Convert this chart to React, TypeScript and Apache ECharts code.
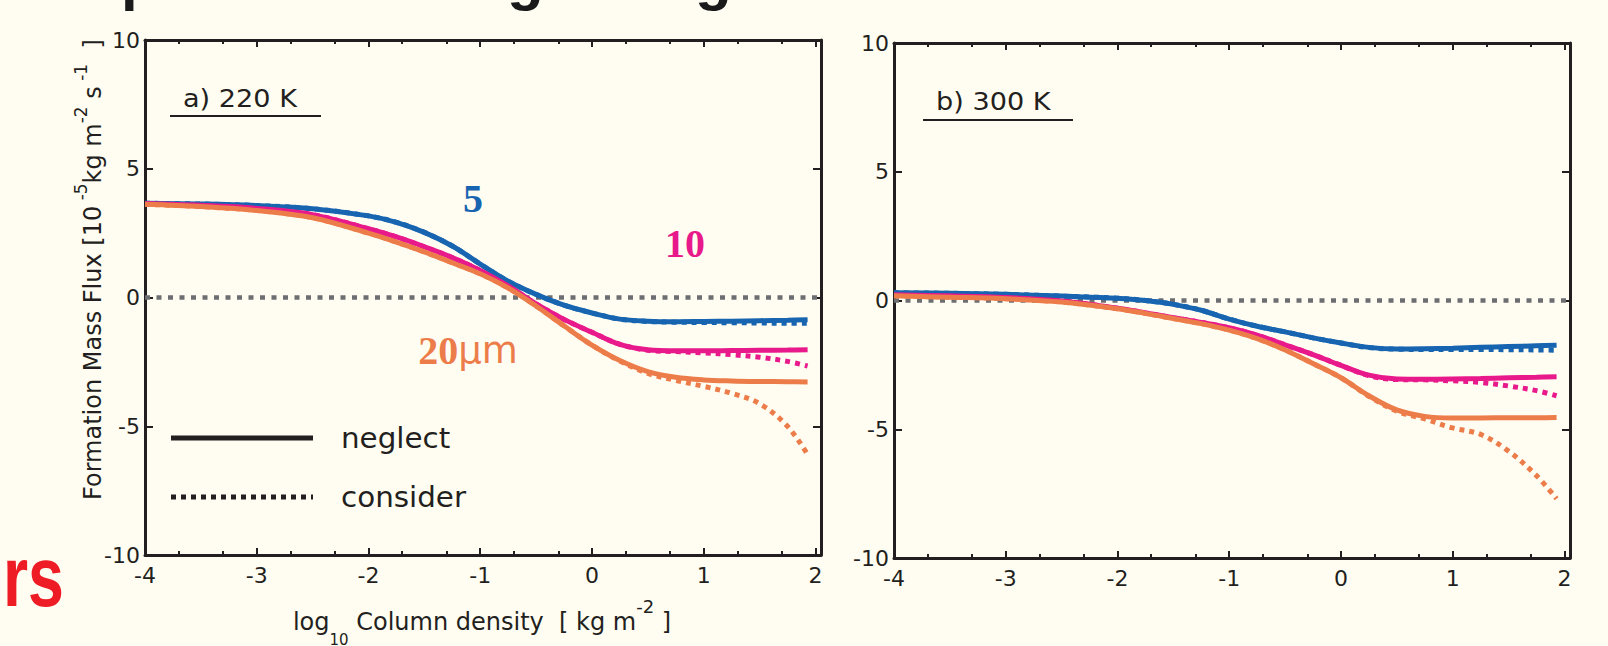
import React, { useEffect, useRef } from "react";
import * as echarts from "echarts";

// ---------- data ----------
const X = [-4, -3.5, -3, -2.5, -2, -1.75, -1.5, -1.25, -1, -0.75, -0.5, -0.25, 0, 0.25, 0.5, 0.75, 1, 1.25, 1.5, 1.75, 1.93];

// panel a) 220 K
const a5Neglect = [3.66, 3.63, 3.57, 3.45, 3.17, 2.92, 2.53, 2.0, 1.3, 0.63, 0.12, -0.3, -0.6, -0.84, -0.92, -0.94, -0.93, -0.92, -0.9, -0.88, -0.86];
const a5Consider = [3.66, 3.63, 3.57, 3.45, 3.17, 2.92, 2.53, 2.0, 1.3, 0.63, 0.12, -0.3, -0.6, -0.84, -0.93, -0.96, -0.97, -0.98, -0.99, -1.0, -1.0];
const a10Neglect = [3.65, 3.58, 3.46, 3.22, 2.67, 2.35, 1.97, 1.55, 1.05, 0.45, -0.25, -0.85, -1.35, -1.82, -2.03, -2.07, -2.07, -2.06, -2.05, -2.04, -2.03];
const a10Consider = [3.65, 3.58, 3.46, 3.22, 2.67, 2.35, 1.97, 1.55, 1.05, 0.45, -0.25, -0.85, -1.35, -1.82, -2.05, -2.1, -2.15, -2.22, -2.32, -2.48, -2.66];
const a20Neglect = [3.62, 3.53, 3.38, 3.1, 2.5, 2.15, 1.77, 1.35, 0.92, 0.37, -0.33, -1.1, -1.85, -2.45, -2.88, -3.1, -3.2, -3.24, -3.26, -3.27, -3.28];
const a20Consider = [3.62, 3.53, 3.38, 3.1, 2.5, 2.15, 1.77, 1.35, 0.92, 0.37, -0.33, -1.1, -1.85, -2.47, -2.95, -3.22, -3.45, -3.72, -4.12, -5.0, -6.1];

// panel b) 300 K
const b5Neglect = [0.3, 0.28, 0.24, 0.17, 0.09, 0.0, -0.15, -0.38, -0.72, -1.0, -1.22, -1.45, -1.65, -1.82, -1.88, -1.87, -1.85, -1.82, -1.79, -1.76, -1.74];
const b5Consider = [0.3, 0.28, 0.24, 0.17, 0.09, 0.0, -0.15, -0.38, -0.72, -1.0, -1.22, -1.45, -1.65, -1.83, -1.89, -1.9, -1.9, -1.9, -1.91, -1.92, -1.93];
const b10Neglect = [0.22, 0.18, 0.12, -0.02, -0.3, -0.48, -0.67, -0.85, -1.06, -1.35, -1.72, -2.1, -2.52, -2.9, -3.05, -3.06, -3.05, -3.03, -3.0, -2.98, -2.96];
const b10Consider = [0.22, 0.18, 0.12, -0.02, -0.3, -0.48, -0.67, -0.85, -1.06, -1.35, -1.72, -2.1, -2.52, -2.92, -3.07, -3.08, -3.12, -3.18, -3.32, -3.5, -3.7];
const b20Neglect = [0.18, 0.13, 0.07, -0.06, -0.32, -0.5, -0.7, -0.9, -1.15, -1.48, -1.92, -2.45, -3.0, -3.7, -4.25, -4.5, -4.56, -4.56, -4.55, -4.55, -4.54];
const b20Consider = [0.18, 0.13, 0.07, -0.06, -0.32, -0.5, -0.7, -0.9, -1.15, -1.48, -1.92, -2.45, -3.0, -3.72, -4.3, -4.6, -4.95, -5.2, -5.85, -6.8, -7.7];

const xTickValues = [-4, -3, -2, -1, 0, 1, 2];
const yTickValues = [-10, -5, 0, 5, 10];
const minorDecades = [-4, -3, -2, -1, 0, 1];
const minorOffsets = [Math.log10(2), Math.log10(5)];

// ---------- style ----------
const BG = "#fffdf1";
const INK = "#231f20";
const BLUE = "#1764b0";
const PINK = "#e8198b";
const ORANGE = "#ec7d4b";
const ZERO = "#6d6e71";
const FONT = "DejaVu Sans";

const minorValues = minorDecades.flatMap((d) => minorOffsets.map((o) => d + o));

const grids = [
  { left: 145, top: 40, width: 676, height: 515 },
  { left: 894, top: 43, width: 676, height: 515 },
];

function xAxes(g: number) {
  const base: any = { type: "value", gridIndex: g, min: -4, max: 2.05, splitLine: { show: false } };
  const line = { show: true, onZero: false, lineStyle: { color: INK, width: 3 } };
  const major = { show: true, inside: true, length: 7, lineStyle: { color: INK, width: 2 }, customValues: xTickValues };
  const minor = { show: true, inside: true, length: 4, lineStyle: { color: INK, width: 2 }, customValues: minorValues };
  return [
    {
      ...base,
      position: "bottom",
      axisLine: line,
      axisTick: major,
      axisLabel: {
        show: true,
        customValues: xTickValues,
        color: INK,
        fontFamily: FONT,
        fontSize: 22,
        margin: 9,
        formatter: (v: number) => String(v),
      },
    },
    { ...base, position: "top", axisLine: line, axisTick: major, axisLabel: { show: false } },
    { ...base, position: "bottom", axisLine: { show: false, onZero: false }, axisTick: minor, axisLabel: { show: false } },
    { ...base, position: "top", axisLine: { show: false, onZero: false }, axisTick: minor, axisLabel: { show: false } },
  ];
}

function yAxes(g: number) {
  const base: any = { type: "value", gridIndex: g, min: -10, max: 10, interval: 5, splitLine: { show: false } };
  const line = { show: true, onZero: false, lineStyle: { color: INK, width: 3 } };
  const tick = { show: true, inside: true, length: 8, lineStyle: { color: INK, width: 2 }, customValues: yTickValues };
  return [
    {
      ...base,
      position: "left",
      axisLine: line,
      axisTick: tick,
      axisLabel: { show: true, color: INK, fontFamily: FONT, fontSize: 22, margin: 5, customValues: yTickValues },
    },
    { ...base, position: "right", axisLine: line, axisTick: tick, axisLabel: { show: false } },
  ];
}

function lineSeries(name: string, vals: number[], color: string, dotted: boolean, xi: number, yi: number, zero = false) {
  const s: any = {
    type: "line",
    name,
    xAxisIndex: xi,
    yAxisIndex: yi,
    data: X.map((x, i) => [x, vals[i]]),
    smooth: 0.35,
    symbol: "none",
    showSymbol: false,
    silent: true,
    z: dotted ? 3 : 4,
    lineStyle: { color, width: 5, type: dotted ? [5, 5] : "solid", cap: "butt" },
  };
  if (zero) {
    s.markLine = {
      silent: true,
      symbol: ["none", "none"],
      label: { show: false },
      lineStyle: { color: ZERO, width: 4.5, type: [5, 6.5] },
      data: [{ yAxis: 0 }],
      z: 2,
    };
  }
  return s;
}

function panelSeries(xi: number, yi: number, d: number[][], tag: string) {
  return [
    lineSeries(tag + " 5 consider", d[1], BLUE, true, xi, yi, true),
    lineSeries(tag + " 10 consider", d[3], PINK, true, xi, yi),
    lineSeries(tag + " 20 consider", d[5], ORANGE, true, xi, yi),
    lineSeries(tag + " 5 neglect", d[0], BLUE, false, xi, yi),
    lineSeries(tag + " 10 neglect", d[2], PINK, false, xi, yi),
    lineSeries(tag + " 20 neglect", d[4], ORANGE, false, xi, yi),
  ];
}

function txt(x: number, y: number, text: string, font: string, fill: string, align = "left", extra: any = {}) {
  return {
    type: "text",
    x,
    y,
    silent: true,
    ...extra,
    style: { text, font, fill, align, verticalAlign: "middle", textAlign: align, textVerticalAlign: "middle", ...(extra.style || {}) },
  };
}

export default function App() {
  const ref = useRef<HTMLDivElement>(null);
  useEffect(() => {
    if (!ref.current) return;
    const chart = echarts.init(ref.current, undefined, { renderer: "svg" });
    const graphic: any[] = [
      // cropped slide title (only descenders visible)
      txt(121, -22, "p", 'bold 60px "Liberation Sans"', "#1a1a1a"),
      txt(507, -22, "g", 'bold 60px "Liberation Sans"', "#1a1a1a"),
      txt(695, -22, "g", 'bold 60px "Liberation Sans"', "#1a1a1a"),
      // cropped red slide text
      txt(3, 576, "rs", 'bold 86px "Liberation Sans"', "#ee1c25", "left", { scaleX: 0.75 }),
      // panel titles
      txt(183, 99, "a) 220 K", `24px "${FONT}"`, INK, "left", { scaleX: 1.13 }),
      { type: "line", silent: true, shape: { x1: 170, y1: 116, x2: 321, y2: 116 }, style: { stroke: INK, lineWidth: 2 } },
      txt(936, 102, "b) 300 K", `24px "${FONT}"`, INK, "left", { scaleX: 1.13 }),
      { type: "line", silent: true, shape: { x1: 923, y1: 120, x2: 1073, y2: 120 }, style: { stroke: INK, lineWidth: 2 } },
      // size labels
      txt(473, 198, "5", 'bold 40px "Liberation Serif"', BLUE, "center"),
      txt(685, 243, "10", 'bold 40px "Liberation Serif"', PINK, "center"),
      {
        type: "text",
        x: 468,
        y: 350,
        silent: true,
        style: {
          text: "{b|20}{n|\u03bcm}",
          align: "center",
          verticalAlign: "middle",
          textAlign: "center",
          textVerticalAlign: "middle",
          rich: {
            b: { font: 'bold 40px "Liberation Serif"', fill: ORANGE, color: ORANGE },
            n: { font: '37px "DejaVu Sans"', fill: ORANGE, color: ORANGE },
          },
        },
      },
      // legend
      { type: "line", silent: true, shape: { x1: 171, y1: 438, x2: 313, y2: 438 }, style: { stroke: INK, lineWidth: 5 } },
      { type: "line", silent: true, shape: { x1: 171, y1: 497, x2: 313, y2: 497 }, style: { stroke: INK, lineWidth: 5, lineDash: [5, 5] } },
      txt(341, 438, "neglect", `28px "${FONT}"`, INK, "left", { scaleX: 1.05 }),
      txt(341, 497, "consider", `28px "${FONT}"`, INK, "left", { scaleX: 1.05 }),
      // y axis title
      {
        type: "text",
        x: 93,
        y: 500,
        rotation: Math.PI / 2,
        silent: true,
        style: {
          text: "{n|Formation Mass Flux [10}{s| -5}{n|kg m}{s|-2}{n| s}{s| -1}{n|  ]}",
          align: "left",
          verticalAlign: "middle",
          textAlign: "left",
          textVerticalAlign: "middle",
          rich: {
            n: { fontFamily: FONT, fontSize: 24, lineHeight: 42, verticalAlign: "middle", fill: INK, color: INK },
            s: { fontFamily: FONT, fontSize: 17, lineHeight: 18, verticalAlign: "top", fill: INK, color: INK },
          },
        },
      },
      // x axis title
      {
        type: "text",
        x: 482,
        y: 622,
        silent: true,
        style: {
          text: "{n|log}{b|10}{n| Column density  [ kg m}{s|-2}{n| ]}",
          align: "center",
          verticalAlign: "middle",
          textAlign: "center",
          textVerticalAlign: "middle",
          rich: {
            n: { fontFamily: FONT, fontSize: 24, lineHeight: 50, verticalAlign: "middle", fill: INK, color: INK },
            b: { fontFamily: FONT, fontSize: 15, lineHeight: 16, verticalAlign: "bottom", fill: INK, color: INK },
            s: { fontFamily: FONT, fontSize: 18, lineHeight: 24, verticalAlign: "top", fill: INK, color: INK },
          },
        },
      },
    ];

    chart.setOption({
      animation: false,
      backgroundColor: BG,
      grid: grids.map((g) => ({ ...g, show: false })),
      xAxis: [...xAxes(0), ...xAxes(1)],
      yAxis: [...yAxes(0), ...yAxes(1)],
      series: [
        ...panelSeries(0, 0, [a5Neglect, a5Consider, a10Neglect, a10Consider, a20Neglect, a20Consider], "220K"),
        ...panelSeries(4, 2, [b5Neglect, b5Consider, b10Neglect, b10Consider, b20Neglect, b20Consider], "300K"),
      ],
      graphic,
    });
    return () => chart.dispose();
  }, []);
  return (
    <div
      ref={ref}
      style={{ position: "fixed", left: 0, top: 0, width: 1608, height: 646, background: BG }}
    />
  );
}
